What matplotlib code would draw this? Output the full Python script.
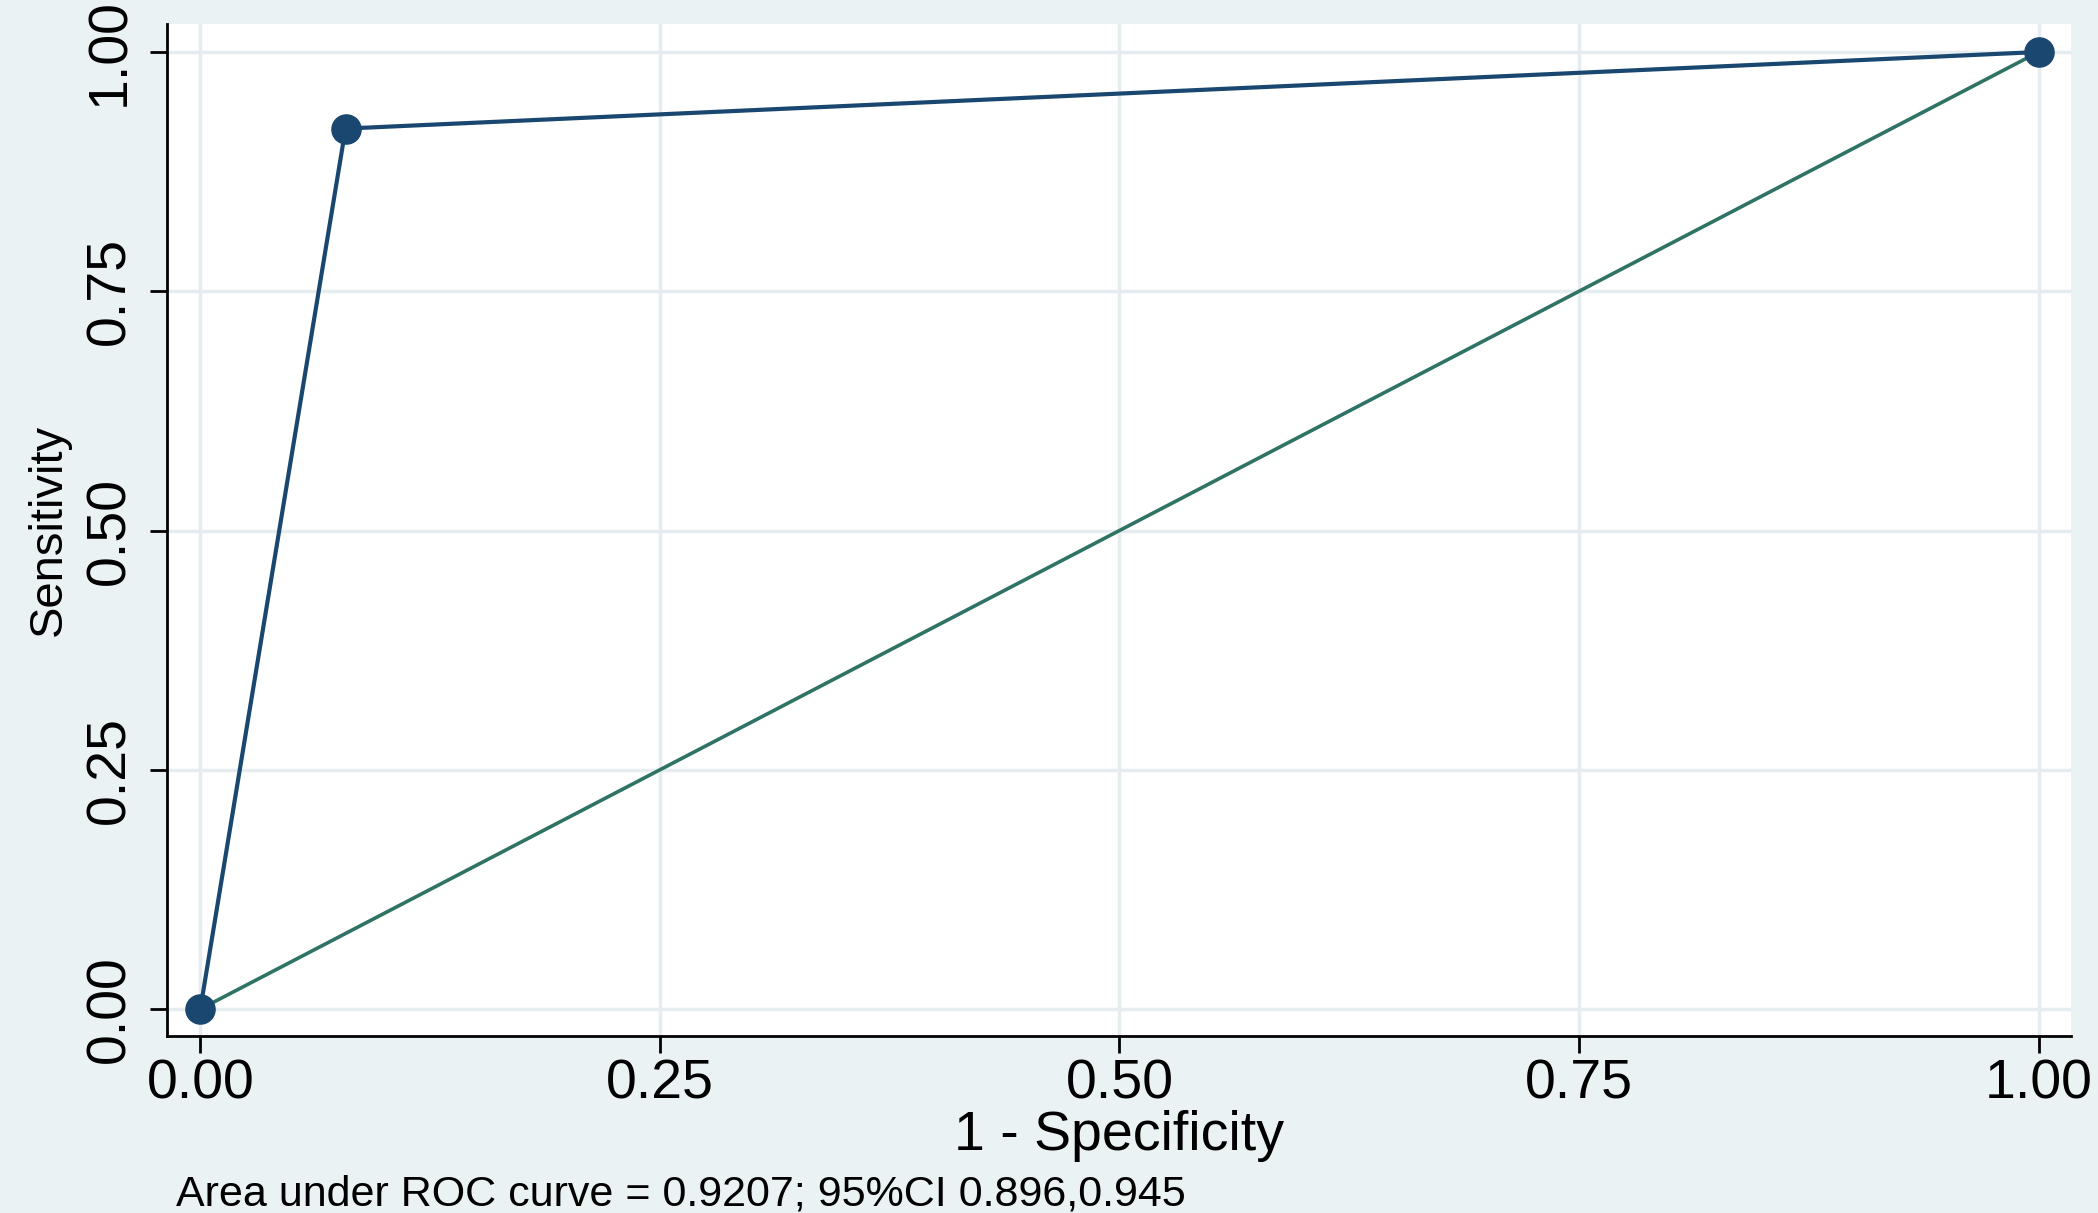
import matplotlib.pyplot as plt

fpr = [0.0, 0.079, 1.0]
tpr = [0.0, 0.920, 1.0]
ref = [0.0, 1.0]
ticks = [0.0, 0.25, 0.5, 0.75, 1.0]
tick_labels = ["0.00", "0.25", "0.50", "0.75", "1.00"]

plt.rcParams['font.family'] = ['Liberation Sans', 'DejaVu Sans']
fig = plt.figure(figsize=(20.98, 12.13), dpi=100, facecolor='#eaf2f3')
ax = fig.add_axes([0.0797, 0.146, 0.9073, 0.834])
ax.set_facecolor('white')

ax.plot(ref, ref, color='#2e7363', lw=2.6, zorder=2)
ax.plot(fpr, tpr, color='#1a476f', lw=3.0, marker='o', markersize=21, zorder=3)

ax.set_xlim(-0.018, 1.0175)
ax.set_ylim(-0.028, 1.029)
ax.set_xticks(ticks)
ax.set_xticklabels(tick_labels, fontsize=40)
ax.set_yticks(ticks)
ax.set_yticklabels(tick_labels, fontsize=40, rotation=90, va='center')
ax.grid(True, color='#e5edf0', lw=2.5)
ax.set_axisbelow(True)
for s in ['top', 'right']:
    ax.spines[s].set_visible(False)
for s in ['left', 'bottom']:
    ax.spines[s].set_linewidth(2)
ax.tick_params(axis='x', length=12, width=2, pad=4)
ax.tick_params(axis='y', length=12, width=2, pad=10)

ax.set_xlabel("1 - Specificity", fontsize=40, labelpad=0)
ax.set_ylabel("Sensitivity", fontsize=34, labelpad=10)
fig.text(0.084, 0.006, "Area under ROC curve = 0.9207; 95%CI 0.896,0.945", fontsize=31)

fig.savefig("out.png", dpi=100, facecolor=fig.get_facecolor())
